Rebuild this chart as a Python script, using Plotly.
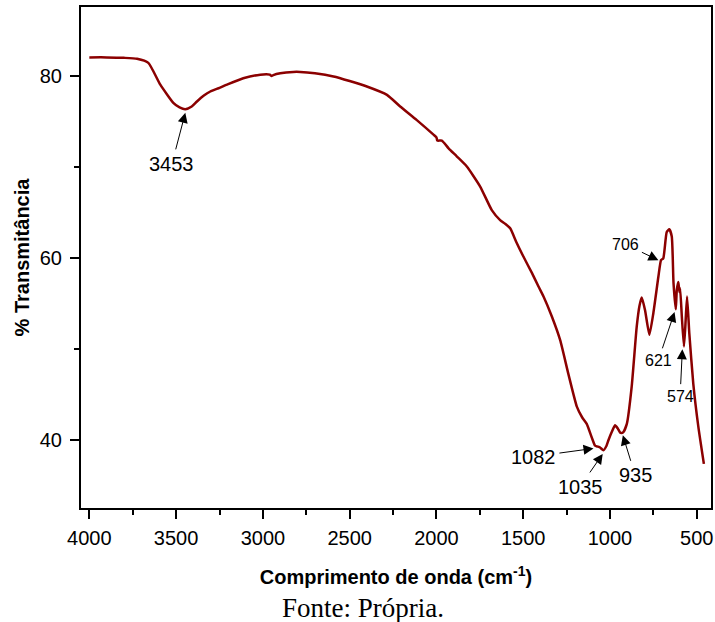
import plotly.graph_objects as go

wavenumber = [4000, 3900, 3800, 3725, 3660, 3591, 3516, 3480, 3447, 3410, 3380, 3340, 3303, 3250,
              3207, 3113, 3015, 2960, 2950, 2940, 2900, 2825, 2785, 2700, 2593, 2500, 2401, 2285,
              2209, 2113, 2017, 2000, 1995, 1969, 1930, 1882, 1825, 1748, 1681, 1633, 1604, 1575,
              1540, 1499, 1450, 1412, 1383, 1335, 1287, 1240, 1191, 1160, 1134, 1105, 1086, 1070,
              1057, 1038, 1020, 1009, 990, 971, 955, 942, 935, 923, 903, 875, 846, 830, 817, 798,
              773, 750, 721, 706, 693, 673, 658, 644, 634, 621, 615, 606, 600, 596, 586, 574, 566,
              556, 543, 520, 491, 459]
transmittance = [82.1, 82.1, 82.05, 81.95, 81.5, 79.1, 77.1, 76.6, 76.4, 76.7, 77.25, 77.9, 78.35, 78.75,
                 79.1, 79.8, 80.2, 80.2, 80.05, 80.15, 80.35, 80.5, 80.5, 80.35, 80.0, 79.5, 78.9, 77.98,
                 76.7, 75.2, 73.6, 73.3, 72.95, 72.95, 72.1, 71.2, 70.1, 67.9, 65.3, 64.2, 63.8, 63.3,
                 61.8, 60.2, 58.4, 56.9, 55.8, 53.6, 51.0, 47.3, 43.7, 42.5, 41.8, 40.3, 39.4, 39.3,
                 39.2, 38.9, 39.4, 40.0, 40.9, 41.65, 41.3, 40.85, 40.8, 40.9, 41.8, 45.9, 52.5, 54.8, 55.7, 54.3,
                 51.6, 54.0, 58.0, 59.8, 60.0, 62.9, 63.2, 62.4, 57.3, 54.4, 56.5, 57.4, 56.3, 56.7, 53.6, 50.3, 52.5,
                 55.8, 51.75, 46.2, 41.5, 37.4]

peak_labels = ["3453", "1082", "1035", "935", "706", "621", "574"]
peak_head_x = [3447, 1095, 1042, 926, 721, 628, 583]
peak_head_y = [76.0, 39.1, 38.5, 40.55, 59.8, 54.1, 50.0]
peak_text_x = [3524, 1441, 1172, 855, 913, 721, 596]
peak_text_y = [70.4, 38.2, 34.9, 36.15, 61.55, 48.8, 44.85]
peak_font = [20, 20, 20, 20, 16, 16, 16]

fig = go.Figure()
fig.add_trace(go.Scatter(x=wavenumber, y=transmittance, mode="lines",
                         line=dict(color="#8B0000", width=2.5, shape="spline", smoothing=0.5),
                         showlegend=False))

for lab, hx, hy, tx, ty, fs in zip(peak_labels, peak_head_x, peak_head_y, peak_text_x, peak_text_y, peak_font):
    fig.add_annotation(x=hx, y=hy, ax=tx, ay=ty, axref="x", ayref="y", xref="x", yref="y",
                       text=lab, showarrow=True, arrowhead=2, arrowsize=2, arrowwidth=1,
                       arrowcolor="black", standoff=0, startstandoff=2,
                       font=dict(family="Liberation Sans, Arial", size=fs, color="black"))

fig.add_annotation(x=0.448, y=-0.2, xref="paper", yref="paper", text="Fonte: Própria.",
                   showarrow=False, yanchor="middle",
                   font=dict(family="Liberation Serif, Times New Roman", size=27, color="black"))

axis_common = dict(showline=True, linecolor="black", linewidth=2, mirror=True, ticks="outside",
                   ticklen=9, tickwidth=1.5, tickcolor="black", showgrid=False, zeroline=False,
                   automargin=False,
                   tickfont=dict(family="Liberation Sans, Arial", size=20, color="black"))

fig.update_xaxes(range=[4048, 418], tickvals=[4000, 3500, 3000, 2500, 2000, 1500, 1000, 500],
                 ticklabelstandoff=2,
                 minor=dict(tickvals=[3750, 3250, 2750, 2250, 1750, 1250, 750], ticklen=5,
                            tickwidth=1.5, tickcolor="black", ticks="outside"),
                 title=dict(text="<b>Comprimento de onda (cm<sup>-1</sup>)</b>", standoff=22,
                            font=dict(family="Liberation Sans, Arial", size=20, color="black")),
                 **axis_common)
fig.update_yaxes(range=[32.55, 87.64], tickvals=[40, 60, 80], ticklabelstandoff=4,
                 minor=dict(tickvals=[50, 70], ticklen=5, tickwidth=1.5, tickcolor="black", ticks="outside"),
                 title=dict(text="<b>% Transmitância</b>", standoff=5,
                            font=dict(family="Liberation Sans, Arial", size=20, color="black")),
                 **axis_common)

fig.update_layout(width=715, height=622, margin=dict(l=81, r=4, t=7, b=114),
                  plot_bgcolor="white", paper_bgcolor="white")

fig.write_html("out.html", config={"displayModeBar": False},
               post_script="document.body.style.margin='0';document.body.style.overflow='hidden';")
